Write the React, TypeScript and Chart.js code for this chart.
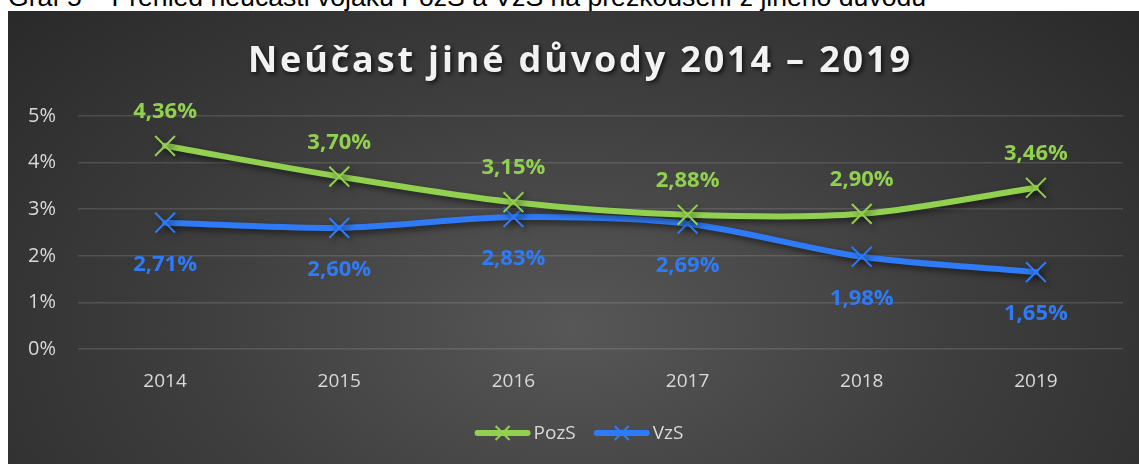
import React, { useEffect, useRef } from "react";
import { Chart, registerables } from "chart.js";

Chart.register(...registerables);

const caption = "Graf 5 – Přehled neúčasti vojáků PozS a VzS na přezkoušení z jiného důvodu";
const chartTitle = "Neúčast jiné důvody 2014 – 2019";
const years = ["2014", "2015", "2016", "2017", "2018", "2019"];
const pozsValues = [4.36, 3.7, 3.15, 2.88, 2.9, 3.46];
const vzsValues = [2.71, 2.6, 2.83, 2.69, 1.98, 1.65];
const yTicks = [0, 1, 2, 3, 4, 5];
const seriesNames = ["PozS", "VzS"];

const GREEN = "#92d050";
const BLUE = "#2f7bf7";
const W = 1131;
const H = 453;

const fmt = (v: number) => v.toFixed(2).replace(".", ",") + "%";

export default function App() {
  const ref = useRef<HTMLCanvasElement | null>(null);

  useEffect(() => {
    if (!ref.current) return;

    const titlePlugin = {
      id: "customTitle",
      beforeDatasetsDraw(chart: any) {
        const ctx = chart.ctx;
        ctx.save();
        ctx.font = "bold 36px 'Open Sans'";
        const natural = ctx.measureText(chartTitle).width;
        const target = 662;
        const spacing = Math.max(0, (target - natural) / (chartTitle.length - 1));
        (ctx as any).letterSpacing = spacing.toFixed(2) + "px";
        ctx.fillStyle = "#f2f2f2";
        ctx.textAlign = "center";
        ctx.textBaseline = "alphabetic";
        ctx.shadowColor = "rgba(0,0,0,0.7)";
        ctx.shadowBlur = 4;
        ctx.shadowOffsetX = 2;
        ctx.shadowOffsetY = 2;
        ctx.fillText(chartTitle, 571 + spacing / 2, 61);
        ctx.restore();
      },
    };

    const shadowPlugin = {
      id: "lineShadow",
      beforeDatasetDraw(chart: any) {
        const ctx = chart.ctx;
        ctx.save();
        ctx.shadowColor = "rgba(0,0,0,0.55)";
        ctx.shadowBlur = 6;
        ctx.shadowOffsetX = 3;
        ctx.shadowOffsetY = 3;
      },
      afterDatasetDraw(chart: any) {
        chart.ctx.restore();
      },
    };

    const labelsPlugin = {
      id: "dataLabels",
      afterDatasetsDraw(chart: any) {
        const ctx = chart.ctx;
        ctx.save();
        ctx.font = "bold 22px 'Open Sans'";
        ctx.textAlign = "center";
        ctx.textBaseline = "alphabetic";
        chart.data.datasets.forEach((ds: any, i: number) => {
          const meta = chart.getDatasetMeta(i);
          ctx.fillStyle = ds.borderColor;
          meta.data.forEach((pt: any, j: number) => {
            const off = i === 0 ? -28 : 48;
            ctx.fillText(fmt(ds.data[j]), pt.x, pt.y + off);
          });
        });
        ctx.restore();
      },
    };

    const legendPlugin = {
      id: "customLegend",
      afterDraw(chart: any) {
        const ctx = chart.ctx;
        ctx.save();
        ctx.font = "19px 'Open Sans'";
        const lineW = 56;
        const gap = 3;
        const between = 18;
        const items = chart.data.datasets.map((ds: any) => ({
          name: ds.label,
          color: ds.borderColor,
          tw: ctx.measureText(ds.label).width,
        }));
        const total = items.reduce((s: number, it: any) => s + lineW + gap + it.tw, 0) + between * (items.length - 1);
        let x = 571 - total / 2;
        const y = 422;
        items.forEach((it: any) => {
          ctx.strokeStyle = it.color;
          ctx.lineCap = "round";
          ctx.lineWidth = 6;
          ctx.beginPath();
          ctx.moveTo(x + 3, y);
          ctx.lineTo(x + lineW - 3, y);
          ctx.stroke();
          const cx = x + lineW / 2;
          ctx.lineWidth = 2;
          ctx.lineCap = "butt";
          ctx.beginPath();
          ctx.moveTo(cx - 7, y - 7);
          ctx.lineTo(cx + 7, y + 7);
          ctx.moveTo(cx + 7, y - 7);
          ctx.lineTo(cx - 7, y + 7);
          ctx.stroke();
          ctx.fillStyle = "#d9d9d9";
          ctx.textAlign = "left";
          ctx.textBaseline = "middle";
          ctx.fillText(it.name, x + lineW + gap, y + 1);
          x += lineW + gap + it.tw + between;
        });
        ctx.restore();
      },
    };

    const mkDs = (label: string, data: number[], color: string) => ({
      label,
      data,
      borderColor: color,
      backgroundColor: color,
      borderWidth: 6,
      borderCapStyle: "round",
      tension: 0.3,
      pointStyle: "crossRot",
      pointRadius: 14,
      pointHoverRadius: 14,
      pointBorderWidth: 2,
      pointBorderColor: color,
      fill: false,
    });

    const chart = new Chart(ref.current, {
      type: "line",
      data: {
        labels: years,
        datasets: [mkDs(seriesNames[0], pozsValues, GREEN), mkDs(seriesNames[1], vzsValues, BLUE)],
      },
      options: {
        responsive: false,
        animation: false,
        layout: { padding: { top: 105, right: 16, left: 0, bottom: 0 } },
        plugins: {
          legend: { display: false },
          title: { display: false },
          tooltip: { enabled: false },
        },
        scales: {
          x: {
            offset: true,
            grid: { display: false, drawTicks: false },
            border: { display: false },
            ticks: { color: "#d9d9d9", font: { family: "'Open Sans'", size: 19 }, padding: 21 },
            afterFit: (s: any) => {
              s.height = 115;
            },
          },
          y: {
            min: yTicks[0],
            max: yTicks[yTicks.length - 1],
            afterBuildTicks: (s: any) => {
              s.ticks = yTicks.map((v) => ({ value: v }));
            },
            grid: { color: "rgba(255,255,255,0.13)", lineWidth: 1.5, drawTicks: false },
            border: { display: false },
            ticks: {
              color: "#d9d9d9",
              font: { family: "'Open Sans'", size: 20 },
              padding: 22,
              callback: (v: any) => v + "%",
            },
            afterFit: (s: any) => {
              s.width = 70;
            },
          },
        },
      },
      plugins: [titlePlugin, shadowPlugin, labelsPlugin, legendPlugin],
    } as any);

    return () => chart.destroy();
  }, []);

  return (
    <div>
      <div
        style={{
          position: "absolute",
          left: 8,
          top: -18,
          fontFamily: "'Liberation Sans', Arial, sans-serif",
          fontSize: 26.6,
          lineHeight: "normal",
          whiteSpace: "nowrap",
          color: "#000",
        }}
      >
        {caption}
      </div>
      <div
        style={{
          position: "absolute",
          left: 8,
          top: 11,
          width: W,
          height: H,
          background: "radial-gradient(ellipse 75% 115% at 50% 70%, #575757 0%, #3e3e3e 45%, #252525 100%)",
        }}
      >
        <canvas ref={ref} width={W} height={H} style={{ display: "block", width: W, height: H }} />
      </div>
    </div>
  );
}
